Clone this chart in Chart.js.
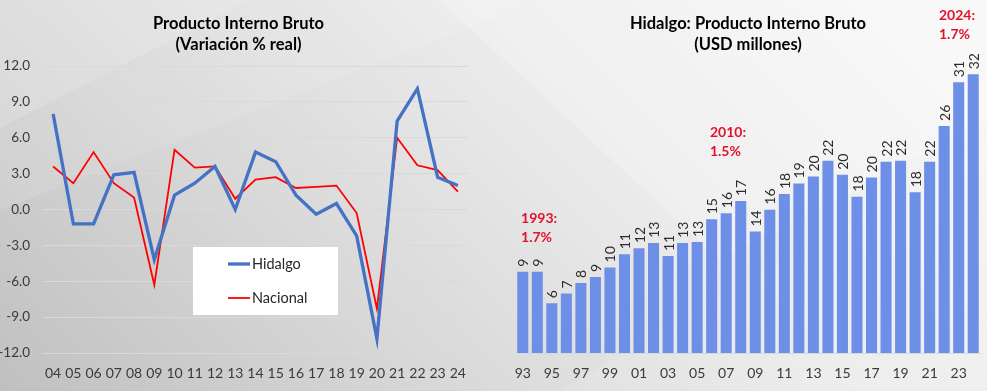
<!DOCTYPE html>
<html>
<head>
<meta charset="utf-8">
<script src="https://cdn.jsdelivr.net/npm/chart.js@4.4.1/dist/chart.umd.min.js"></script>
<style>
  html, body { margin:0; padding:0; width:987px; height:391px; overflow:hidden; }
  #bg { position:absolute; left:0; top:0; }
  #wrapL { position:absolute; left:0; top:0; width:478px; height:391px; }
  #wrapR { position:absolute; left:490px; top:0; width:497px; height:391px; }
</style>
</head>
<body>
<canvas id="bg" width="987" height="391"></canvas>
<div id="wrapL"><canvas id="left" width="478" height="391"></canvas></div>
<div id="wrapR"><canvas id="right" width="497" height="391"></canvas></div>
<script>
// ---------- DATA ----------
const yearsShort = ['04','05','06','07','08','09','10','11','12','13','14','15','16','17','18','19','20','21','22','23','24'];
const hidalgoGrowth = [8.0,-1.2,-1.2,2.9,3.1,-4.2,1.2,2.2,3.6,0.0,4.8,4.0,1.2,-0.4,0.5,-2.2,-10.8,7.4,10.1,2.7,2.0];
const nacionalGrowth = [3.6,2.2,4.8,2.2,1.0,-6.3,5.0,3.5,3.6,0.9,2.5,2.7,1.8,1.9,2.0,-0.3,-8.3,6.0,3.7,3.3,1.5];
const growthTicks = [-12,-9,-6,-3,0,3,6,9,12];

const barYears = ['93','94','95','96','97','98','99','00','01','02','03','04','05','06','07','08','09','10','11','12','13','14','15','16','17','18','19','20','21','22','23','24'];
const pibUSD = [9.3,9.3,5.7,6.8,8.0,8.7,9.8,11.3,12.0,12.6,11.1,12.6,12.7,15.3,16.0,17.4,13.9,16.4,18.2,19.4,20.2,22.0,20.4,17.9,20.1,21.9,22.0,18.4,21.9,26.0,31.0,31.9];
const shareNotes = [['1993:','1.7%'],['2010:','1.5%'],['2024:','1.7%']];

const titleLeft = ['Producto Interno Bruto','(Variación % real)'];
const titleRight = ['Hidalgo: Producto Interno Bruto','(USD millones)'];

// ---------- BACKGROUND ----------
(function(){
  const c = document.getElementById('bg').getContext('2d');
  const g = c.createLinearGradient(0,391,620,-240);
  g.addColorStop(0,'#c0c0c0');
  g.addColorStop(0.35,'#d8d8d8');
  g.addColorStop(0.65,'#eaeaea');
  g.addColorStop(1,'#f6f6f6');
  c.fillStyle = g; c.fillRect(0,0,987,391);
  function poly(pts, col){ c.beginPath(); c.moveTo(pts[0][0],pts[0][1]); for(let i=1;i<pts.length;i++) c.lineTo(pts[i][0],pts[i][1]); c.closePath(); c.fillStyle=col; c.fill(); }
  poly([[0,0],[250,0],[0,128]], 'rgba(255,255,255,0.22)');
  poly([[0,128],[250,0],[540,0],[0,210]], 'rgba(255,255,255,0.10)');
  poly([[440,0],[987,0],[987,120],[720,260]], 'rgba(255,255,255,0.22)');
  poly([[560,391],[987,140],[987,391]], 'rgba(255,255,255,0.10)');
})();

const FONT = 'Lato, "Open Sans", sans-serif';
Chart.defaults.font.family = FONT;

// ---------- LEFT CHART ----------
const legendBox = {
  id: 'legendBox',
  afterDraw(chart, args, opts) {
    const c = chart.ctx;
    c.save();
    c.fillStyle = '#ffffff';
    c.fillRect(opts.x, opts.y, opts.w, opts.h);
    chart.data.datasets.forEach((ds, i) => {
      const cy = opts.y + opts.firstRow + i * opts.rowGap;
      c.strokeStyle = ds.borderColor;
      c.lineWidth = ds.borderWidth;
      c.beginPath();
      c.moveTo(opts.x + opts.lineStart, cy);
      c.lineTo(opts.x + opts.lineStart + opts.lineLen, cy);
      c.stroke();
      c.fillStyle = '#262626';
      c.font = '14.5px ' + FONT;
      c.textBaseline = 'middle';
      c.textAlign = 'left';
      c.fillText(ds.label, opts.x + opts.lineStart + opts.lineLen + 2, cy);
    });
    c.restore();
  }
};

new Chart(document.getElementById('left'), {
  type: 'line',
  data: {
    labels: yearsShort,
    datasets: [
      { label: 'Hidalgo', data: hidalgoGrowth, borderColor: '#4472c4', borderWidth: 3.3, pointRadius: 0, tension: 0, fill: false },
      { label: 'Nacional', data: nacionalGrowth, borderColor: '#ff0000', borderWidth: 1.8, pointRadius: 0, tension: 0, fill: false }
    ]
  },
  plugins: [legendBox],
  options: {
    responsive: false,
    animation: false,
    devicePixelRatio: 1,
    layout: { padding: { left: 0, right: 1, top: 0, bottom: 0 } },
    plugins: {
      legend: { display: false },
      tooltip: { enabled: false },
      title: {
        display: true, text: titleLeft, color: '#000000',
        font: { size: 16.5, weight: 'bold', family: FONT, lineHeight: '21px' },
        padding: { top: 13, bottom: 11 }
      },
      legendBox: { x: 193, y: 247, w: 145, h: 68, firstRow: 17, rowGap: 34, lineStart: 35, lineLen: 22 }
    },
    scales: {
      x: {
        offset: true,
        grid: { display: false, drawTicks: false },
        border: { display: false },
        ticks: { color: '#3a3a3a', font: { size: 14 }, padding: 12, autoSkip: false, maxRotation: 0 },
        afterFit(s) { s.height = 38; }
      },
      y: {
        min: -12, max: 12,
        afterBuildTicks(s) { s.ticks = growthTicks.map(v => ({ value: v })); },
        grid: { color: '#d9d9d9', lineWidth: 1, drawTicks: false },
        border: { display: false },
        ticks: { color: '#3a3a3a', font: { size: 13.5 }, padding: 13, callback: v => Number(v).toFixed(1) },
        afterFit(s) { s.width = 43; }
      }
    }
  }
});

// ---------- RIGHT CHART ----------
const barLabels = {
  id: 'barLabels',
  afterDatasetsDraw(chart, args, opts) {
    const c = chart.ctx;
    const meta = chart.getDatasetMeta(0);
    c.save();
    c.fillStyle = '#2b2b2b';
    c.font = '14px ' + FONT;
    c.textAlign = 'left';
    c.textBaseline = 'middle';
    meta.data.forEach((el, i) => {
      const v = chart.data.datasets[0].data[i];
      c.save();
      c.translate(el.x, el.y - opts.gap);
      c.rotate(-Math.PI / 2);
      c.fillText(String(Math.round(v)), 0, 1);
      c.restore();
    });
    // red notes
    const xs = chart.scales.x, ys = chart.scales.y;
    c.fillStyle = '#e3122b';
    c.font = 'bold 14px ' + FONT;
    c.textAlign = 'left';
    shareNotes.forEach((lines, k) => {
      const a = opts.anchors[k];
      const px = xs.getPixelForValue(a[0]);
      const py = ys.getPixelForValue(a[1]);
      lines.forEach((t, j) => c.fillText(t, px, py + j * opts.lineGap));
    });
    c.restore();
  }
};

new Chart(document.getElementById('right'), {
  type: 'bar',
  data: {
    labels: barYears,
    datasets: [{ label: 'PIB', data: pibUSD, backgroundColor: '#6d8fe8', borderWidth: 0, categoryPercentage: 1, barPercentage: 0.76 }]
  },
  plugins: [barLabels],
  options: {
    responsive: false,
    animation: false,
    devicePixelRatio: 1,
    layout: { padding: { left: 25.5, right: 6.5, top: 0, bottom: 0 } },
    plugins: {
      legend: { display: false },
      tooltip: { enabled: false },
      title: {
        display: true, text: titleRight, color: '#000000', fullSize: false,
        font: { size: 16.5, weight: 'bold', family: FONT, lineHeight: '21px' },
        padding: { top: 13, bottom: 1 }
      },
      barLabels: { gap: 5, lineGap: 19, anchors: [[-0.12, 15.35], [12.88, 25.3], [28.64, 38.66]] }
    },
    scales: {
      x: {
        grid: { display: false, drawTicks: false },
        border: { display: true, color: '#d9d9d9' },
        ticks: { color: '#3a3a3a', font: { size: 14 }, padding: 12, autoSkip: false, maxRotation: 0,
                 callback: (v, i) => (i % 2 === 0 ? barYears[i] : '') },
        afterFit(s) { s.height = 38; }
      },
      y: { display: false, min: 0, max: 34 }
    }
  }
});
</script>
</body>
</html>
